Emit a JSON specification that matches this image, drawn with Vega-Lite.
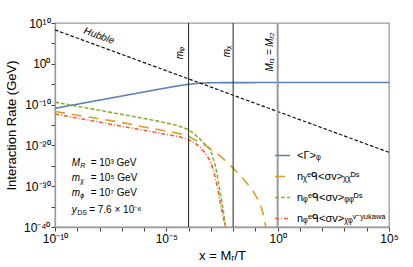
{
  "$schema": "https://vega.github.io/schema/vega-lite/v6.json",
  "width": 334,
  "height": 204,
  "autosize": {"type": "none"},
  "padding": {"left": 55, "top": 23, "right": 24, "bottom": 40},
  "background": "white",
  "data": {"values": [{}]},
  "config": {
    "font": "Liberation Sans",
    "view": {"stroke": "#9a9a9a", "strokeWidth": 1.3},
    "axis": {
      "grid": false,
      "domainColor": "#9a9a9a",
      "domainWidth": 1.3,
      "labelFont": "Liberation Sans",
      "labelFontSize": 12,
      "labelColor": "#000",
      "titleFont": "Liberation Sans",
      "titleFontSize": 13,
      "titleFontWeight": "normal",
      "titleColor": "#000",
      "labelOverlap": false,
      "labelFlush": false
    },
    "legend": {
      "orient": "bottom-right",
      "symbolType": "stroke",
      "symbolSize": 225,
      "symbolStrokeWidth": 1.6,
      "labelFont": "Liberation Sans",
      "labelFontSize": 11,
      "labelColor": "#000",
      "rowPadding": 7,
      "labelOffset": 6,
      "offset": 3,
      "padding": 0
    }
  },
  "datasets": {
    "hubble": [
      {"x": 1e-10, "y": 1.995e8},
      {"x": 1e5, "y": 1.995e-22}
    ],
    "curves": [
      {"s": "<Γ>ᵩ", "x": 1e-10, "y": 1.259e-11},
      {"s": "<Γ>ᵩ", "x": 1e-9, "y": 1.259e-10},
      {"s": "<Γ>ᵩ", "x": 1e-8, "y": 1.259e-9},
      {"s": "<Γ>ᵩ", "x": 1e-7, "y": 1.259e-8},
      {"s": "<Γ>ᵩ", "x": 1e-6, "y": 1.259e-7},
      {"s": "<Γ>ᵩ", "x": 3.162e-6, "y": 3.981e-7},
      {"s": "<Γ>ᵩ", "x": 1e-5, "y": 1.230e-6},
      {"s": "<Γ>ᵩ", "x": 3.162e-5, "y": 3.715e-6},
      {"s": "<Γ>ᵩ", "x": 5.623e-5, "y": 6.166e-6},
      {"s": "<Γ>ᵩ", "x": 1e-4, "y": 9.333e-6},
      {"s": "<Γ>ᵩ", "x": 1.778e-4, "y": 1.318e-5},
      {"s": "<Γ>ᵩ", "x": 3.162e-4, "y": 1.698e-5},
      {"s": "<Γ>ᵩ", "x": 5.623e-4, "y": 1.995e-5},
      {"s": "<Γ>ᵩ", "x": 1e-3, "y": 2.188e-5},
      {"s": "<Γ>ᵩ", "x": 3.162e-3, "y": 2.399e-5},
      {"s": "<Γ>ᵩ", "x": 1e-2, "y": 2.472e-5},
      {"s": "<Γ>ᵩ", "x": 1, "y": 2.512e-5},
      {"s": "<Γ>ᵩ", "x": 1e5, "y": 2.512e-5},

      {"s": "nᵪᵉᑫ<σv>ᵪᵪᴰˢ", "x": 1e-10, "y": 1.995e-12},
      {"s": "nᵪᵉᑫ<σv>ᵪᵪᴰˢ", "x": 1e-9, "y": 2.512e-13},
      {"s": "nᵪᵉᑫ<σv>ᵪᵪᴰˢ", "x": 1e-8, "y": 3.162e-14},
      {"s": "nᵪᵉᑫ<σv>ᵪᵪᴰˢ", "x": 1e-7, "y": 3.981e-15},
      {"s": "nᵪᵉᑫ<σv>ᵪᵪᴰˢ", "x": 1e-6, "y": 3.162e-16},
      {"s": "nᵪᵉᑫ<σv>ᵪᵪᴰˢ", "x": 1e-5, "y": 3.162e-17},
      {"s": "nᵪᵉᑫ<σv>ᵪᵪᴰˢ", "x": 3.162e-5, "y": 1e-17},
      {"s": "nᵪᵉᑫ<σv>ᵪᵪᴰˢ", "x": 1e-4, "y": 1.585e-18},
      {"s": "nᵪᵉᑫ<σv>ᵪᵪᴰˢ", "x": 3.162e-4, "y": 5.012e-20},
      {"s": "nᵪᵉᑫ<σv>ᵪᵪᴰˢ", "x": 1e-3, "y": 1.259e-21},
      {"s": "nᵪᵉᑫ<σv>ᵪᵪᴰˢ", "x": 3.162e-3, "y": 1e-23},
      {"s": "nᵪᵉᑫ<σv>ᵪᵪᴰˢ", "x": 1e-2, "y": 2.512e-26},
      {"s": "nᵪᵉᑫ<σv>ᵪᵪᴰˢ", "x": 3.162e-2, "y": 3.162e-29},
      {"s": "nᵪᵉᑫ<σv>ᵪᵪᴰˢ", "x": 0.1, "y": 6.310e-33},
      {"s": "nᵪᵉᑫ<σv>ᵪᵪᴰˢ", "x": 0.1778, "y": 1e-35},
      {"s": "nᵪᵉᑫ<σv>ᵪᵪᴰˢ", "x": 0.2512, "y": 1e-38},
      {"s": "nᵪᵉᑫ<σv>ᵪᵪᴰˢ", "x": 0.2951, "y": 1e-40},

      {"s": "nᵩᵉᑫ<σv>ᵩᵩᴰˢ", "x": 1e-10, "y": 3.981e-10},
      {"s": "nᵩᵉᑫ<σv>ᵩᵩᴰˢ", "x": 1e-9, "y": 3.981e-11},
      {"s": "nᵩᵉᑫ<σv>ᵩᵩᴰˢ", "x": 1e-8, "y": 3.981e-12},
      {"s": "nᵩᵉᑫ<σv>ᵩᵩᴰˢ", "x": 1e-7, "y": 3.981e-13},
      {"s": "nᵩᵉᑫ<σv>ᵩᵩᴰˢ", "x": 1e-6, "y": 3.981e-14},
      {"s": "nᵩᵉᑫ<σv>ᵩᵩᴰˢ", "x": 1e-5, "y": 3.162e-15},
      {"s": "nᵩᵉᑫ<σv>ᵩᵩᴰˢ", "x": 3.162e-5, "y": 6.310e-16},
      {"s": "nᵩᵉᑫ<σv>ᵩᵩᴰˢ", "x": 1e-4, "y": 6.310e-17},
      {"s": "nᵩᵉᑫ<σv>ᵩᵩᴰˢ", "x": 1.995e-4, "y": 3.981e-18},
      {"s": "nᵩᵉᑫ<σv>ᵩᵩᴰˢ", "x": 3.162e-4, "y": 3.981e-19},
      {"s": "nᵩᵉᑫ<σv>ᵩᵩᴰˢ", "x": 5.623e-4, "y": 1.585e-20},
      {"s": "nᵩᵉᑫ<σv>ᵩᵩᴰˢ", "x": 1e-3, "y": 3.162e-22},
      {"s": "nᵩᵉᑫ<σv>ᵩᵩᴰˢ", "x": 1.259e-3, "y": 7.943e-24},
      {"s": "nᵩᵉᑫ<σv>ᵩᵩᴰˢ", "x": 1.585e-3, "y": 1e-25},
      {"s": "nᵩᵉᑫ<σv>ᵩᵩᴰˢ", "x": 1.995e-3, "y": 1.585e-28},
      {"s": "nᵩᵉᑫ<σv>ᵩᵩᴰˢ", "x": 2.512e-3, "y": 1e-31},
      {"s": "nᵩᵉᑫ<σv>ᵩᵩᴰˢ", "x": 3.548e-3, "y": 1.585e-36},
      {"s": "nᵩᵉᑫ<σv>ᵩᵩᴰˢ", "x": 4.571e-3, "y": 1e-40},

      {"s": "nᵩᵉᑫ<σv>ᵪᵩᵛ⁻ʸᵘᵏᵃʷᵃ", "x": 1e-10, "y": 5.012e-13},
      {"s": "nᵩᵉᑫ<σv>ᵪᵩᵛ⁻ʸᵘᵏᵃʷᵃ", "x": 1e-9, "y": 5.012e-14},
      {"s": "nᵩᵉᑫ<σv>ᵪᵩᵛ⁻ʸᵘᵏᵃʷᵃ", "x": 1e-8, "y": 5.012e-15},
      {"s": "nᵩᵉᑫ<σv>ᵪᵩᵛ⁻ʸᵘᵏᵃʷᵃ", "x": 1e-7, "y": 5.012e-16},
      {"s": "nᵩᵉᑫ<σv>ᵪᵩᵛ⁻ʸᵘᵏᵃʷᵃ", "x": 1e-6, "y": 5.012e-17},
      {"s": "nᵩᵉᑫ<σv>ᵪᵩᵛ⁻ʸᵘᵏᵃʷᵃ", "x": 1e-5, "y": 5.012e-18},
      {"s": "nᵩᵉᑫ<σv>ᵪᵩᵛ⁻ʸᵘᵏᵃʷᵃ", "x": 3.162e-5, "y": 1.585e-18},
      {"s": "nᵩᵉᑫ<σv>ᵪᵩᵛ⁻ʸᵘᵏᵃʷᵃ", "x": 1e-4, "y": 2.512e-19},
      {"s": "nᵩᵉᑫ<σv>ᵪᵩᵛ⁻ʸᵘᵏᵃʷᵃ", "x": 1.995e-4, "y": 3.162e-20},
      {"s": "nᵩᵉᑫ<σv>ᵪᵩᵛ⁻ʸᵘᵏᵃʷᵃ", "x": 3.162e-4, "y": 3.981e-21},
      {"s": "nᵩᵉᑫ<σv>ᵪᵩᵛ⁻ʸᵘᵏᵃʷᵃ", "x": 5.623e-4, "y": 1e-22},
      {"s": "nᵩᵉᑫ<σv>ᵪᵩᵛ⁻ʸᵘᵏᵃʷᵃ", "x": 1e-3, "y": 5.012e-25},
      {"s": "nᵩᵉᑫ<σv>ᵪᵩᵛ⁻ʸᵘᵏᵃʷᵃ", "x": 1.259e-3, "y": 1.259e-26},
      {"s": "nᵩᵉᑫ<σv>ᵪᵩᵛ⁻ʸᵘᵏᵃʷᵃ", "x": 1.585e-3, "y": 1e-28},
      {"s": "nᵩᵉᑫ<σv>ᵪᵩᵛ⁻ʸᵘᵏᵃʷᵃ", "x": 1.995e-3, "y": 3.981e-31},
      {"s": "nᵩᵉᑫ<σv>ᵪᵩᵛ⁻ʸᵘᵏᵃʷᵃ", "x": 2.512e-3, "y": 5.012e-34},
      {"s": "nᵩᵉᑫ<σv>ᵪᵩᵛ⁻ʸᵘᵏᵃʷᵃ", "x": 3.548e-3, "y": 3.981e-38},
      {"s": "nᵩᵉᑫ<σv>ᵪᵩᵛ⁻ʸᵘᵏᵃʷᵃ", "x": 4.467e-3, "y": 1e-40}
    ]
  },
  "layer": [
    {
      "data": {"name": "curves"},
      "mark": {"type": "line", "strokeWidth": 1.6, "interpolate": "monotone", "clip": true},
      "encoding": {
        "x": {"field": "x", "type": "quantitative", "scale": {"type": "log", "domain": [1e-10, 1e5]},
          "axis": {"orient": "bottom", "values": [1e-10, 1e-9, 1e-8, 1e-7, 1e-6, 1e-5, 1e-4, 1e-3, 1e-2, 1e-1, 1, 10, 100, 1000, 10000, 100000], "ticks": true, "tickSize": 4, "tickColor": "#444", "tickWidth": 1, "labelPadding": 2, "title": "x = Mᵣ/T", "titlePadding": 5,
            "labelExpr": "round(log(datum.value)/LN10) == -10 ? '10⁻¹⁰' : round(log(datum.value)/LN10) == -5 ? '10⁻⁵' : round(log(datum.value)/LN10) == 0 ? '10⁰' : round(log(datum.value)/LN10) == 5 ? '10⁵' : ''"}},
        "y": {"field": "y", "type": "quantitative", "scale": {"type": "log", "domain": [1e-40, 1e10]},
          "axis": {"orient": "left", "values": [1e-40, 1e-35, 1e-30, 1e-25, 1e-20, 1e-15, 1e-10, 1e-5, 1, 1e5, 1e10], "ticks": true, "tickSize": 4, "tickColor": "#444", "tickWidth": 1, "labelPadding": 1, "title": "Interaction Rate (GeV)", "titlePadding": 5,
            "labelExpr": "round(log(datum.value)/LN10) == 10 ? '10¹⁰' : round(log(datum.value)/LN10) == 0 ? '10⁰' : round(log(datum.value)/LN10) == -10 ? '10⁻¹⁰' : round(log(datum.value)/LN10) == -20 ? '10⁻²⁰' : round(log(datum.value)/LN10) == -30 ? '10⁻³⁰' : round(log(datum.value)/LN10) == -40 ? '10⁻⁴⁰' : ''"}},
        "color": {"field": "s", "type": "nominal",
          "scale": {"domain": ["<Γ>ᵩ", "nᵪᵉᑫ<σv>ᵪᵪᴰˢ", "nᵩᵉᑫ<σv>ᵩᵩᴰˢ", "nᵩᵉᑫ<σv>ᵪᵩᵛ⁻ʸᵘᵏᵃʷᵃ"], "range": ["#5E81B5", "#E19C24", "#8FB032", "#EB6235"]},
          "legend": {"title": null}},
        "strokeDash": {"field": "s", "type": "nominal",
          "scale": {"domain": ["<Γ>ᵩ", "nᵪᵉᑫ<σv>ᵪᵪᴰˢ", "nᵩᵉᑫ<σv>ᵩᵩᴰˢ", "nᵩᵉᑫ<σv>ᵪᵩᵛ⁻ʸᵘᵏᵃʷᵃ"], "range": [[1, 0], [10, 7], [4, 2], [4, 2, 1, 2]]},
          "legend": {"title": null}}
      }
    },
    {
      "data": {"name": "hubble"},
      "mark": {"type": "line", "color": "#111", "strokeWidth": 1.2, "strokeDash": [3.5, 2], "clip": true},
      "encoding": {
        "x": {"field": "x", "type": "quantitative", "scale": {"type": "log", "domain": [1e-10, 1e5]}},
        "y": {"field": "y", "type": "quantitative", "scale": {"type": "log", "domain": [1e-40, 1e10]}}
      }
    },
    {
      "mark": {"type": "rule", "color": "#222", "strokeWidth": 1},
      "encoding": {
        "x": {"datum": 1e-4, "type": "quantitative", "scale": {"type": "log", "domain": [1e-10, 1e5]}}
      }
    },
    {
      "mark": {"type": "rule", "color": "#222", "strokeWidth": 1},
      "encoding": {
        "x": {"datum": 1e-2, "type": "quantitative", "scale": {"type": "log", "domain": [1e-10, 1e5]}}
      }
    },
    {
      "mark": {"type": "rule", "color": "#9a9a9a", "strokeWidth": 2},
      "encoding": {
        "x": {"datum": 1, "type": "quantitative", "scale": {"type": "log", "domain": [1e-10, 1e5]}}
      }
    },
    {
      "mark": {"type": "text", "text": "Hubble", "angle": 20, "fontSize": 10, "fontStyle": "italic", "align": "center", "baseline": "middle"},
      "encoding": {
        "x": {"datum": 9.5e-9, "type": "quantitative", "scale": {"type": "log", "domain": [1e-10, 1e5]}},
        "y": {"datum": 7e6, "type": "quantitative", "scale": {"type": "log", "domain": [1e-40, 1e10]}}
      }
    },
    {
      "mark": {"type": "text", "text": "mᵩ", "angle": 270, "fontSize": 10, "fontStyle": "italic", "align": "center", "baseline": "middle"},
      "encoding": {
        "x": {"datum": 4.1e-5, "type": "quantitative", "scale": {"type": "log", "domain": [1e-10, 1e5]}},
        "y": {"datum": 450, "type": "quantitative", "scale": {"type": "log", "domain": [1e-40, 1e10]}}
      }
    },
    {
      "mark": {"type": "text", "text": "mᵪ", "angle": 270, "fontSize": 10, "fontStyle": "italic", "align": "center", "baseline": "middle"},
      "encoding": {
        "x": {"datum": 5.1e-3, "type": "quantitative", "scale": {"type": "log", "domain": [1e-10, 1e5]}},
        "y": {"datum": 1150, "type": "quantitative", "scale": {"type": "log", "domain": [1e-40, 1e10]}}
      }
    },
    {
      "mark": {"type": "text", "text": "Mᵣ₁ = Mᵣ₂", "angle": 270, "fontSize": 10, "fontStyle": "italic", "align": "center", "baseline": "middle"},
      "encoding": {
        "x": {"datum": 0.447, "type": "quantitative", "scale": {"type": "log", "domain": [1e-10, 1e5]}},
        "y": {"datum": 780, "type": "quantitative", "scale": {"type": "log", "domain": [1e-40, 1e10]}}
      }
    },
    {
      "mark": {"type": "text", "text": ["M", "m", "m"], "lineHeight": 14.8, "fontSize": 10, "fontStyle": "italic", "align": "left", "baseline": "top"},
      "encoding": {
        "x": {"datum": 5.6e-10, "type": "quantitative", "scale": {"type": "log", "domain": [1e-10, 1e5]}},
        "y": {"datum": 6.3e-24, "type": "quantitative", "scale": {"type": "log", "domain": [1e-40, 1e10]}}
      }
    },
    {
      "mark": {"type": "text", "text": ["R", "χ", "ϕ"], "lineHeight": 14.8, "fontSize": 7, "fontStyle": "italic", "align": "left", "baseline": "top", "dx": 8.5, "dy": 4},
      "encoding": {
        "x": {"datum": 5.6e-10, "type": "quantitative", "scale": {"type": "log", "domain": [1e-10, 1e5]}},
        "y": {"datum": 6.3e-24, "type": "quantitative", "scale": {"type": "log", "domain": [1e-40, 1e10]}}
      }
    },
    {
      "mark": {"type": "text", "text": ["= 10³ GeV", "= 10⁵ GeV", "= 10⁷ GeV"], "lineHeight": 14.8, "fontSize": 10, "align": "left", "baseline": "top", "dx": 19},
      "encoding": {
        "x": {"datum": 5.6e-10, "type": "quantitative", "scale": {"type": "log", "domain": [1e-10, 1e5]}},
        "y": {"datum": 6.3e-24, "type": "quantitative", "scale": {"type": "log", "domain": [1e-40, 1e10]}}
      }
    },
    {
      "mark": {"type": "text", "text": "y", "fontSize": 10, "fontStyle": "italic", "align": "left", "baseline": "middle"},
      "encoding": {
        "x": {"datum": 5.6e-10, "type": "quantitative", "scale": {"type": "log", "domain": [1e-10, 1e5]}},
        "y": {"datum": 1.6e-36, "type": "quantitative", "scale": {"type": "log", "domain": [1e-40, 1e10]}}
      }
    },
    {
      "mark": {"type": "text", "text": "DS", "fontSize": 7, "align": "left", "baseline": "middle", "dx": 5.5, "dy": 3},
      "encoding": {
        "x": {"datum": 5.6e-10, "type": "quantitative", "scale": {"type": "log", "domain": [1e-10, 1e5]}},
        "y": {"datum": 1.6e-36, "type": "quantitative", "scale": {"type": "log", "domain": [1e-40, 1e10]}}
      }
    },
    {
      "mark": {"type": "text", "text": "= 7.6 × 10⁻⁶", "fontSize": 10, "align": "left", "baseline": "middle", "dx": 17.5},
      "encoding": {
        "x": {"datum": 5.6e-10, "type": "quantitative", "scale": {"type": "log", "domain": [1e-10, 1e5]}},
        "y": {"datum": 1.6e-36, "type": "quantitative", "scale": {"type": "log", "domain": [1e-40, 1e10]}}
      }
    }
  ]
}
